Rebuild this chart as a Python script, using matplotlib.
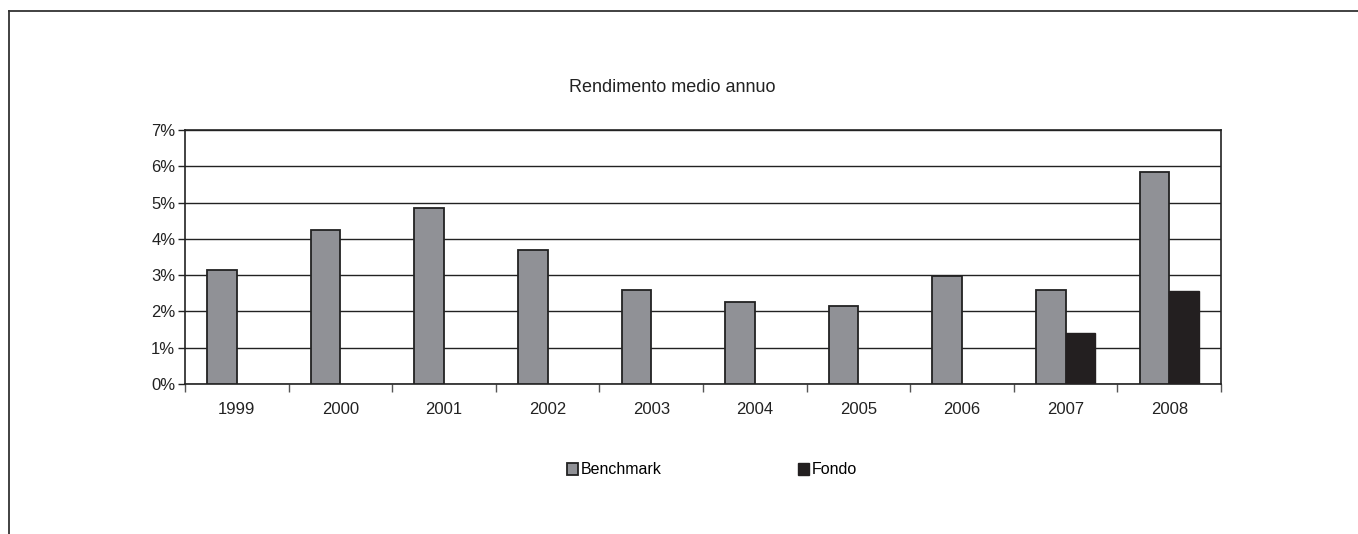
import matplotlib.pyplot as plt
import numpy as np
from matplotlib.lines import Line2D
from matplotlib.ticker import FixedLocator, PercentFormatter

plt.rcParams["font.family"] = ["Liberation Sans", "DejaVu Sans"]

# Data (percent)
years = ["1999", "2000", "2001", "2002", "2003", "2004", "2005", "2006", "2007", "2008"]
benchmark = [3.14, 4.24, 4.85, 3.69, 2.59, 2.26, 2.15, 2.98, 2.59, 5.84]
fondo = [np.nan] * 8 + [1.40, 2.56]

fig = plt.figure(figsize=(13.58, 5.34), dpi=100)
ax = fig.add_axes([185 / 1358, 1 - 384 / 534, 1036 / 1358, 254 / 534])

x = np.arange(len(years)) + 0.5
w = 0.2857
edge = "#222222"
ax.bar(x - w / 2, benchmark, width=w, color="#909196", edgecolor=edge, linewidth=1.3,
       label="Benchmark", zorder=3)
ax.bar(x + w / 2, fondo, width=w, color="#231f20", edgecolor="#231f20", linewidth=1.0,
       label="Fondo", zorder=3)

ax.set_xlim(0, len(years))
ax.set_ylim(0, 7)
ax.set_yticks(np.arange(0, 8, 1))
ax.yaxis.set_major_formatter(PercentFormatter(decimals=0))
ax.grid(axis="y", color="#222222", linewidth=1.0, zorder=0)

ax.set_xticks(x)
ax.set_xticklabels(years)
ax.xaxis.set_minor_locator(FixedLocator(np.arange(0, len(years) + 1)))
ax.tick_params(axis="x", which="major", length=0, pad=13, labelsize=12, colors="#222222")
ax.tick_params(axis="x", which="minor", length=6, width=1.0, color="#555555")
ax.tick_params(axis="y", length=5, width=1.0, labelsize=12, colors="#222222", pad=2)

for s in ax.spines.values():
    s.set_color("#222222")
    s.set_linewidth(1.2)

fig.text(672 / 1358, 1 - 88 / 534, "Rendimento medio annuo", ha="center", va="center",
         fontsize=13, color="#222222")

fig.legend(loc="center", bbox_to_anchor=(712 / 1358, 1 - 470 / 534), ncol=2, frameon=False,
           fontsize=11.5, handlelength=0.7, handleheight=0.7, handletextpad=0.2,
           columnspacing=8.5)

# outer chart frame (left and top edges visible)
fig.add_artist(Line2D([8.5 / 1358, 8.5 / 1358], [0, 1 - 11 / 534], transform=fig.transFigure,
                      color="#333333", linewidth=1.3))
fig.add_artist(Line2D([8.5 / 1358, 1], [1 - 11 / 534, 1 - 11 / 534], transform=fig.transFigure,
                      color="#333333", linewidth=1.3))

fig.savefig("out.png", dpi=100)
